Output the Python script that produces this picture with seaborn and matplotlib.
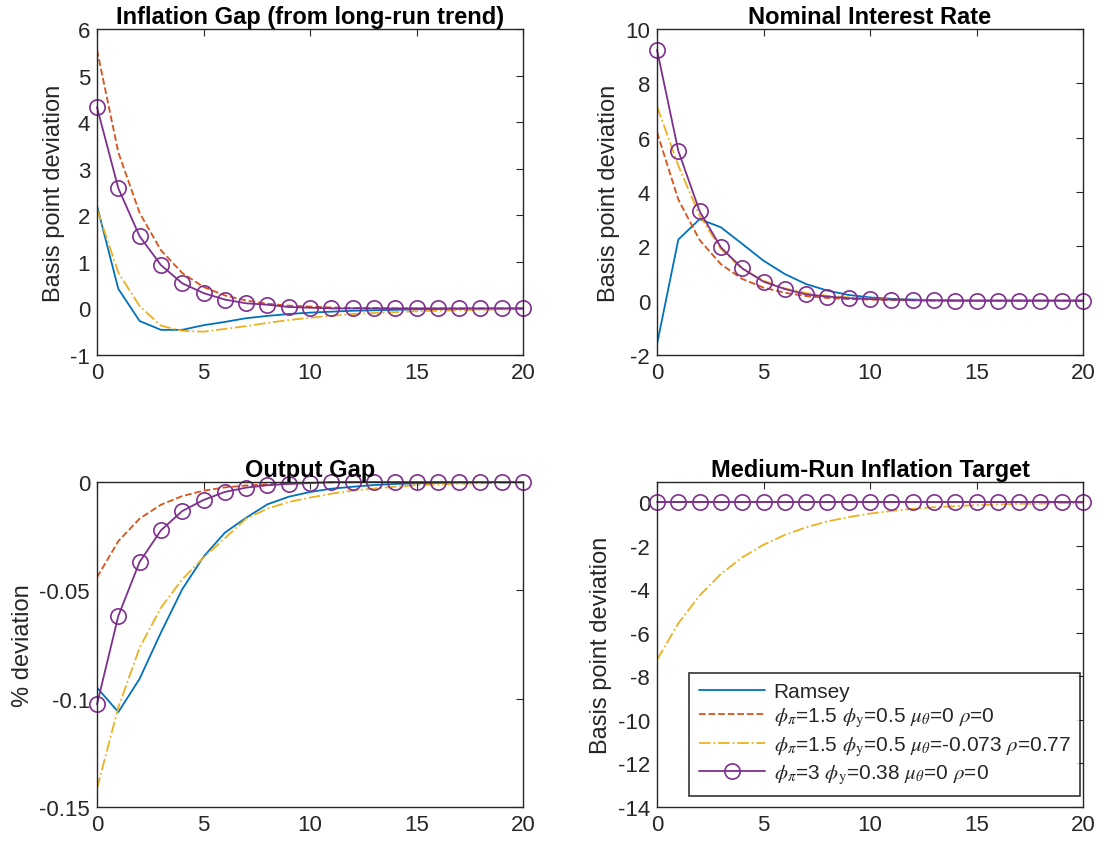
import numpy as np
import pandas as pd
import seaborn as sns
import matplotlib
matplotlib.use('Agg')
import matplotlib.pyplot as plt

# horizon
t = list(range(21))

# Inflation gap (from long-run trend)
infl_ramsey = [2.2, 0.42, -0.27, -0.46, -0.46, -0.36, -0.29, -0.21, -0.16, -0.12, -0.09,
               -0.07, -0.05, -0.04, -0.03, -0.02, -0.015, -0.01, -0.007, -0.005, -0.003]
infl_rule1 = [5.55, 3.35, 2.05, 1.25, 0.76, 0.46, 0.28, 0.17, 0.10, 0.06, 0.04,
              0.02, 0.01, 0.01, 0.0, 0.0, 0.0, 0.0, 0.0, 0.0, 0.0]
infl_rule2 = [2.13, 0.77, 0.05, -0.37, -0.48, -0.5, -0.44, -0.38, -0.31, -0.25, -0.2,
              -0.16, -0.12, -0.1, -0.08, -0.06, -0.05, -0.04, -0.03, -0.02, -0.015]
infl_rule3 = [4.32, 2.58, 1.55, 0.93, 0.54, 0.33, 0.19, 0.11, 0.08, 0.03, 0.015,
              0.0, 0.0, 0.0, 0.0, 0.0, 0.0, 0.0, 0.0, 0.0, 0.0]

# Nominal interest rate
rate_ramsey = [-1.6, 2.25, 3.0, 2.7, 2.09, 1.47, 0.98, 0.61, 0.37, 0.21, 0.12,
               0.07, 0.04, 0.02, 0.01, 0.0, 0.0, 0.0, 0.0, 0.0, 0.0]
rate_rule1 = [6.2, 3.72, 2.23, 1.34, 0.80, 0.48, 0.29, 0.17, 0.10, 0.06, 0.04,
              0.02, 0.01, 0.0, 0.0, 0.0, 0.0, 0.0, 0.0, 0.0, 0.0]
rate_rule2 = [7.15, 4.97, 3.13, 1.9, 1.17, 0.74, 0.45, 0.28, 0.18, 0.12, 0.08,
              0.05, 0.03, 0.02, 0.01, 0.0, 0.0, 0.0, 0.0, 0.0, 0.0]
rate_rule3 = [9.23, 5.51, 3.29, 1.96, 1.19, 0.70, 0.43, 0.23, 0.15, 0.09, 0.06,
              0.04, 0.02, 0.01, 0.0, 0.0, 0.0, 0.0, 0.0, 0.0, 0.0]

# Output gap
gap_ramsey = [-0.0949, -0.1062, -0.0908, -0.0695, -0.0495, -0.0345, -0.0234, -0.0165,
              -0.0103, -0.0068, -0.0046, -0.0031, -0.0022, -0.0014, -0.0009, -0.0006,
              -0.0004, -0.0002, -0.0001, 0.0, 0.0]
gap_rule1 = [-0.044, -0.0273, -0.0169, -0.0105, -0.0065, -0.004, -0.0025, -0.0016,
             -0.001, -0.0006, -0.0004, -0.0002, -0.0001, 0.0, 0.0, 0.0, 0.0, 0.0, 0.0, 0.0, 0.0]
gap_rule2 = [-0.1415, -0.104, -0.0765, -0.058, -0.0449, -0.0349, -0.026, -0.0169,
             -0.0123, -0.0092, -0.0072, -0.0054, -0.004, -0.003, -0.0022, -0.0015,
             -0.0011, -0.0008, -0.0006, -0.0004, -0.0003]
gap_rule3 = [-0.1026, -0.0618, -0.0369, -0.0223, -0.0134, -0.0083, -0.0046, -0.0026,
             -0.0015, -0.0009, -0.0005, 0.0, 0.0, 0.0, 0.0, 0.0, 0.0, 0.0, 0.0, 0.0, 0.0]

# Medium-run inflation target
targ_ramsey = [0.0] * 21
targ_rule1 = [0.0] * 21
targ_rule2 = [-7.24, -5.57, -4.29, -3.30, -2.54, -1.96, -1.51, -1.16, -0.89, -0.69, -0.53,
              -0.41, -0.31, -0.24, -0.19, -0.14, -0.11, -0.08, -0.07, -0.05, -0.04]
targ_rule3 = [0.0] * 21

labels = ['Ramsey',
          r'$\phi_\pi$=1.5 $\phi_{\rm y}$=0.5 $\mu_\theta$=0 $\rho$=0',
          r'$\phi_\pi$=1.5 $\phi_{\rm y}$=0.5 $\mu_\theta$=-0.073 $\rho$=0.77',
          r'$\phi_\pi$=3 $\phi_{\rm y}$=0.38 $\mu_\theta$=0 $\rho$=0']

sns.set_style('white')
plt.rcParams['font.family'] = ['Liberation Sans', 'DejaVu Sans']
plt.rcParams['mathtext.fontset'] = 'stix'
plt.rcParams['axes.unicode_minus'] = False

colors = ['#0072BD', '#D95319', '#EDB120', '#7E2F8E']
styles = ['-', '--', '-.', '-']

panels = [
    ('Inflation Gap (from long-run trend)', 'Basis point deviation',
     [infl_ramsey, infl_rule1, infl_rule2, infl_rule3], (-1, 6), list(range(-1, 7)), None),
    ('Nominal Interest Rate', 'Basis point deviation',
     [rate_ramsey, rate_rule1, rate_rule2, rate_rule3], (-2, 10), list(range(-2, 11, 2)), None),
    ('Output Gap', '% deviation',
     [gap_ramsey, gap_rule1, gap_rule2, gap_rule3], (-0.15, 0), [-0.15, -0.1, -0.05, 0],
     ['-0.15', '-0.1', '-0.05', '0']),
    ('Medium-Run Inflation Target', 'Basis point deviation',
     [targ_ramsey, targ_rule1, targ_rule2, targ_rule3], (-14, 0.92), list(range(-14, 1, 2)), None),
]

positions = [
    [0.0882, 0.5787, 0.3873, 0.3858],
    [0.5973, 0.5787, 0.3873, 0.3858],
    [0.0882, 0.0438, 0.3873, 0.3846],
    [0.5973, 0.0438, 0.3873, 0.3846],
]

fig = plt.figure(figsize=(11, 8.45), dpi=100)

for (title, ylab, series, ylim, yticks, yticklabels), pos in zip(panels, positions):
    ax = fig.add_axes(pos)
    for i, vals in enumerate(series):
        df = pd.DataFrame({'t': t, 'v': vals})
        kw = dict(marker='o', markersize=11, markerfacecolor='none',
                  markeredgecolor=colors[i], markeredgewidth=1.2) if i == 3 else {}
        sns.lineplot(data=df, x='t', y='v', ax=ax, color=colors[i], linestyle=styles[i],
                     linewidth=1.3, label=labels[i], legend=False, clip_on=(i != 3), **kw)
    ax.set_xlim(0, 20)
    ax.set_ylim(*ylim)
    ax.set_xticks([0, 5, 10, 15, 20])
    ax.set_yticks(yticks)
    if yticklabels is not None:
        ax.set_yticklabels(yticklabels)
    ax.set_xlabel('')
    ax.set_ylabel(ylab, fontsize=17, color='#262626', labelpad=4)
    ax.set_title(title, fontsize=17, fontweight='bold', pad=4, color='black')
    ax.tick_params(direction='in', top=True, right=True, length=5, width=0.8,
                   labelsize=16, colors='#262626', pad=5)
    for sp in ax.spines.values():
        sp.set_color('#262626')
        sp.set_linewidth(1.0)

leg = ax.legend(loc='lower right', bbox_to_anchor=(0.993, 0.035), fontsize=15,
                handlelength=3.2, frameon=True, fancybox=False, borderpad=0.45,
                labelspacing=0.25, handletextpad=0.4, borderaxespad=0)
leg.get_frame().set_edgecolor('black')
leg.get_frame().set_linewidth(1.2)

fig.savefig('out.png', dpi=100)
